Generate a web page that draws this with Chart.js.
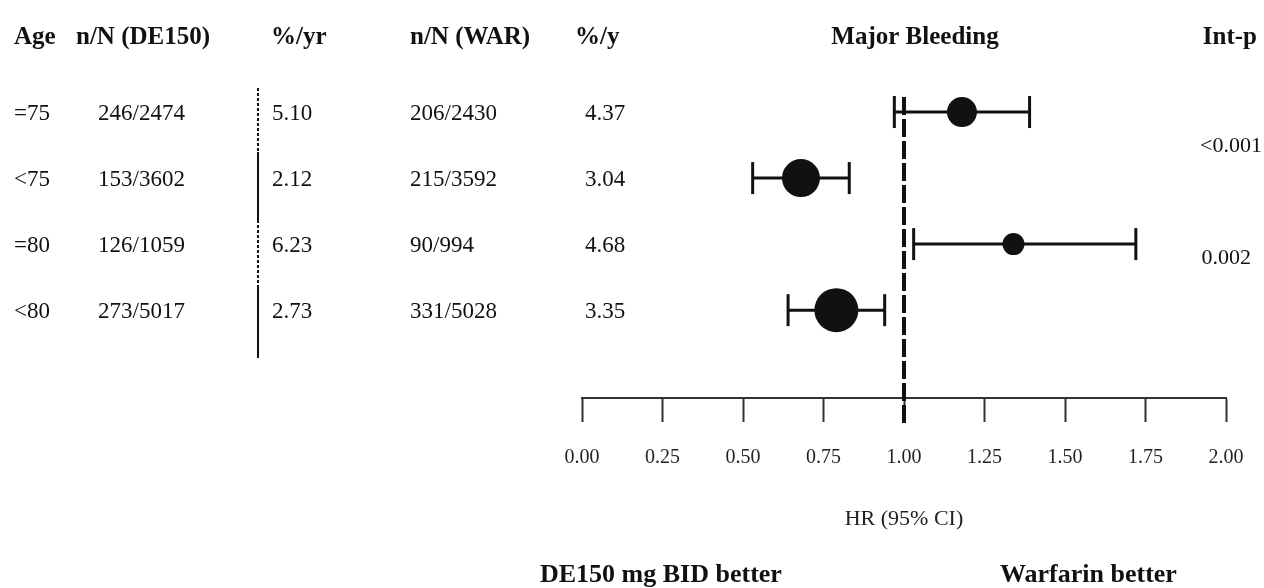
<!DOCTYPE html>
<html>
<head>
<meta charset="utf-8">
<script src="https://cdn.jsdelivr.net/npm/chart.js@4.4.0/dist/chart.umd.min.js"></script>
<style>
  body { margin: 0; background: #fff; }
  #wrap { width: 1264px; height: 588px; }
</style>
</head>
<body>
<div id="wrap"><canvas id="forest" width="1264" height="588"></canvas></div>
<script>
// subgroup rows, top to bottom
const ageGroups = ['=75', '<75', '=80', '<80'];
const deCounts = ['246/2474', '153/3602', '126/1059', '273/5017'];
const deRates = ['5.10', '2.12', '6.23', '2.73'];
const warCounts = ['206/2430', '215/3592', '90/994', '331/5028'];
const warRates = ['4.37', '3.04', '4.68', '3.35'];

// hazard ratios with 95% CI
const hrValues = [1.18, 0.68, 1.34, 0.79];
const ciLow = [0.97, 0.53, 1.03, 0.64];
const ciHigh = [1.39, 0.83, 1.72, 0.94];

const interactionP = ['<0.001', '0.002'];
const xTicks = [0, 0.25, 0.5, 0.75, 1, 1.25, 1.5, 1.75, 2];
const headers = ['Age', 'n/N (DE150)', '%/yr', 'n/N (WAR)', '%/y'];

const SERIF = '"Liberation Serif", "Times New Roman", serif';
const INK = '#111';

// marker size roughly follows subgroup weight
const markerRadius = [15, 19, 11, 22];

const refLinePlugin = {
  id: 'refLine',
  beforeDatasetsDraw(chart) {
    const { ctx, chartArea, scales: { x } } = chart;
    const px = x.getPixelForValue(1);
    ctx.save();
    ctx.strokeStyle = INK;
    ctx.lineWidth = 4;
    ctx.setLineDash([18, 4]);
    ctx.beginPath();
    ctx.moveTo(px, chartArea.top + 51);
    ctx.lineTo(px, chartArea.bottom + 27);
    ctx.stroke();
    ctx.restore();
  }
};

const tablePlugin = {
  id: 'forestTable',
  afterDraw(chart) {
    const { ctx, scales: { y } } = chart;
    ctx.save();
    ctx.fillStyle = INK;
    ctx.textBaseline = 'middle';

    // header row
    const headerX = [14, 76, 271, 410, 575];
    ctx.font = 'bold 25px ' + SERIF;
    headers.forEach((h, i) => ctx.fillText(h, headerX[i], 38));
    ctx.textAlign = 'center';
    ctx.fillText('Major Bleeding', 915, 38);
    ctx.textAlign = 'right';
    ctx.fillText('Int-p', 1257, 38);

    // body rows
    const colX = [14, 98, 272, 410, 585];
    ctx.textAlign = 'left';
    ctx.font = '23px ' + SERIF;
    ageGroups.forEach((g, i) => {
      const py = y.getPixelForValue(i + 1) + 2;
      const cells = [g, deCounts[i], deRates[i], warCounts[i], warRates[i]];
      cells.forEach((c, j) => ctx.fillText(c, colX[j], py));
    });

    // interaction p-values
    ctx.font = '22px ' + SERIF;
    ctx.textAlign = 'right';
    ctx.fillText(interactionP[0], 1262, 146);
    ctx.fillText(interactionP[1], 1251, 258);
    ctx.textAlign = 'left';

    // separator between n/N and rate columns
    const segs = [[88, 152, true], [152, 220, false], [220, 285, true], [285, 358, false]];
    ctx.strokeStyle = INK;
    ctx.lineWidth = 2;
    segs.forEach(([y0, y1, dotted]) => {
      ctx.setLineDash(dotted ? [3, 2] : []);
      ctx.beginPath();
      ctx.moveTo(258, y0);
      ctx.lineTo(258, y1);
      ctx.stroke();
    });
    ctx.setLineDash([]);

    // direction captions
    ctx.font = 'bold 26px ' + SERIF;
    ctx.fillText('DE150 mg BID better', 540, 575);
    ctx.fillText('Warfarin better', 1000, 575);
    ctx.restore();
  }
};

const whiskers = ageGroups.map((g, i) => ({
  label: g + ' CI',
  data: [{ x: ciLow[i], y: i + 1 }, { x: ciHigh[i], y: i + 1 }],
  showLine: true,
  borderColor: INK,
  borderWidth: 3,
  pointStyle: 'line',
  rotation: 90,
  pointRadius: 16,
  pointBorderWidth: 3,
  pointBorderColor: INK,
  order: 2
}));

const markers = {
  label: 'HR',
  data: hrValues.map((v, i) => ({ x: v, y: i + 1 })),
  pointStyle: 'circle',
  pointRadius: markerRadius,
  backgroundColor: INK,
  borderWidth: 0,
  order: 1
};

new Chart(document.getElementById('forest'), {
  type: 'scatter',
  data: { datasets: [markers, ...whiskers] },
  options: {
    responsive: false,
    animation: false,
    events: [],
    layout: { padding: { left: 582, right: 38, top: 46, bottom: 0 } },
    plugins: { legend: { display: false }, tooltip: { enabled: false } },
    scales: {
      y: { display: false, min: 0, max: 5.33, reverse: true },
      x: {
        type: 'linear',
        min: 0,
        max: 2,
        position: 'bottom',
        afterBuildTicks: s => { s.ticks = xTicks.map(v => ({ value: v })); },
        afterFit: s => {
          s.height = 190;
          s.paddingLeft = 0;
          s.paddingRight = 0;
        },
        ticks: {
          callback: v => Number(v).toFixed(2),
          font: { family: SERIF, size: 20 },
          color: '#222',
          padding: 24,
          maxRotation: 0,
          autoSkip: false
        },
        grid: { drawOnChartArea: false, drawTicks: true, tickLength: 24, tickWidth: 2, tickColor: '#333' },
        border: { display: true, color: '#333', width: 2 },
        title: {
          display: true,
          text: 'HR (95% CI)',
          font: { family: SERIF, size: 22 },
          color: '#222',
          padding: { top: 0, bottom: 56 }
        }
      }
    }
  },
  plugins: [refLinePlugin, tablePlugin]
});
</script>
</body>
</html>
